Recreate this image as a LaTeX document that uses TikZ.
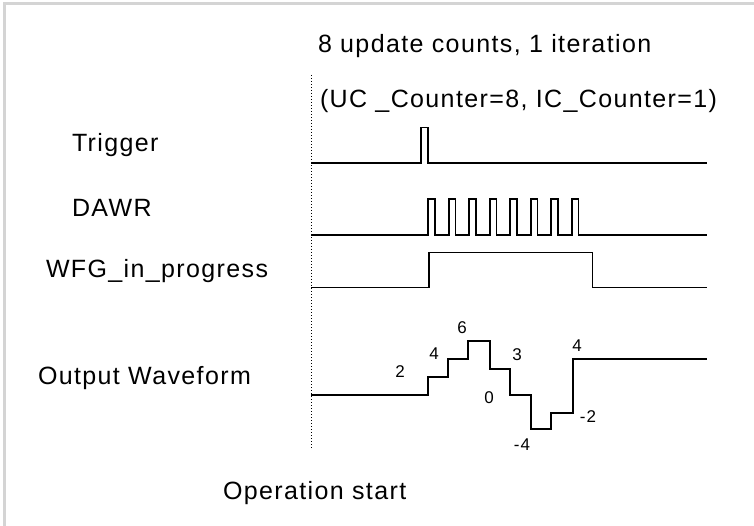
\documentclass[tikz,border=0pt]{standalone}
\usepackage{fontspec}
\setmainfont{Liberation Sans}[LetterSpace=5.5]
\newcommand{\sigcol}{black}
\newcommand{\framecol}{black!17}

\begin{document}
\begin{tikzpicture}[x=1pt,y=-1pt,inner sep=0pt,outer sep=0pt,
	sig/.style={draw=\sigcol,line width=1.7pt},
	lbl/.style={anchor=base west,font=\fontsize{25}{28}\selectfont},
	val/.style={font=\fontsize{17}{19}\selectfont}]
	\useasboundingbox (0,0) rectangle (754,526);
	\draw[\framecol,line width=3pt] (4.5,526)--(4.5,3.5)--(754,3.5);
	
	% headings
	\node[lbl] (title) at (318,53) {8 update counts, 1 iteration};
	\node[lbl] (counters) at (320,108) {(UC \_Counter=8, IC\_Counter=1)};
	
	% signal names
	\node[lbl] (trig) at (72,152) {Trigger};
	\node[lbl] (dawr) at (72,217) {DAWR};
	\node[lbl] (wfg) at (46,278) {WFG\_in\_progress};
	\node[lbl] (out) at (38,384) {Output Waveform};
	\node[lbl] (opstart) at (223,499) {Operation start};
	
	% start marker
	\draw[line width=1pt,dotted] (311,75)--(311,448);
	
	% Trigger
	\draw[sig] (311,163)--(421,163)--(421,127.5)--(428,127.5)--(428,163)--(707,163);
	
	% DAWR
	\draw[sig] (311,235)--(428.3,235)
		\foreach \i in {0,...,7}{--++(0,-36)--++(6.6,0)--++(0,36)--++(13.9,0)}
		--(707,235);
	
	% WFG_in_progress
	\draw[sig] (311,287.5)--(429,287.5)--(429,252.5)--(592.5,252.5)--(592.5,287.5)--(707,287.5);
	
	% Output Waveform
	\draw[sig] (311,395)--(428.3,395)--(428.3,376.7)--(448.3,376.7)--(448.3,359)
		--(468.3,359)--(468.3,341)--(490,341)--(490,369)--(510,369)--(510,395)
		--(531,395)--(531,429.3)--(550.7,429.3)--(550.7,412.7)--(572.7,412.7)
		--(572.7,359)--(707,359);
	\node[val] (v1) at (400,371.7) {2};
	\node[val] (v2) at (434,354) {4};
	\node[val] (v3) at (462,328) {6};
	\node[val] (v4) at (517,355) {3};
	\node[val] (v5) at (489,397.7) {0};
	\node[val] (v6) at (522,445) {-4};
	\node[val] (v7) at (588,416.7) {-2};
	\node[val] (v8) at (577,345.7) {4};
\end{tikzpicture}
\end{document}
